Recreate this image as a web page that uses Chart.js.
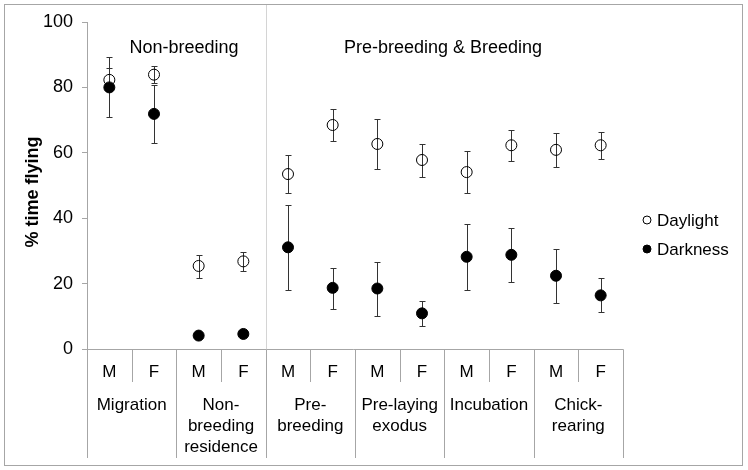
<!DOCTYPE html>
<html>
<head>
<meta charset="utf-8">
<script src="https://cdn.jsdelivr.net/npm/chart.js@4/dist/chart.umd.min.js"></script>
<style>
html,body{margin:0;padding:0;background:#fff;}
#wrap{width:748px;height:470px;position:relative;}
</style>
</head>
<body>
<div id="wrap"><canvas id="c"></canvas></div>
<script>
// ---- data ----
const sexes = ['M','F','M','F','M','F','M','F','M','F','M','F'];
const stages = [['Migration'],['Non-','breeding','residence'],['Pre-','breeding'],['Pre-laying','exodus'],['Incubation'],['Chick-','rearing']];
const periods = ['Non-breeding','Pre-breeding & Breeding'];
const periodSpans = [2, 4]; // number of stages in each period
const yTicks = [0,20,40,60,80,100];

const daylight   = [82.3, 83.9, 25.4, 26.8, 53.5, 68.5, 62.7, 57.8, 54.1, 62.3, 60.9, 62.3];
const daylightLo = [78.8, 81.3, 21.8, 23.8, 47.6, 63.7, 55.0, 52.7, 47.7, 57.4, 55.7, 58.1];
const daylightHi = [85.8, 86.5, 28.7, 29.7, 59.4, 73.3, 70.2, 62.8, 60.4, 67.1, 66.1, 66.4];

const darkness   = [80.0, 71.9, 4.1, 4.6, 31.1, 18.7, 18.5, 10.9, 28.2, 28.8, 22.4, 16.4];
const darknessLo = [70.8, 62.9, 3.3, 3.8, 18.0, 12.3, 10.2, 7.1, 18.0, 20.5, 14.1, 11.2];
const darknessHi = [89.2, 80.7, 5.0, 5.4, 44.1, 24.9, 26.6, 14.7, 38.3, 37.1, 30.7, 21.7];

const FONT = "'Liberation Sans', Arial, sans-serif";
const GRID = '#a6a6a6';

const errorBars = {
  id: 'errorBars',
  beforeDatasetsDraw(chart) {
    const ctx = chart.ctx, x = chart.scales.x, y = chart.scales.y;
    const sets = [[daylightLo, daylightHi],[darknessLo, darknessHi]];
    ctx.save();
    ctx.strokeStyle = '#333';
    ctx.lineWidth = 1;
    sets.forEach(([lo, hi]) => {
      lo.forEach((l, i) => {
        const px = Math.round(x.getPixelForValue(i)) + 0.5;
        const p1 = Math.round(y.getPixelForValue(l)) + 0.5;
        const p2 = Math.round(y.getPixelForValue(hi[i])) + 0.5;
        ctx.beginPath();
        ctx.moveTo(px, p1); ctx.lineTo(px, p2);
        ctx.moveTo(px - 3, p1); ctx.lineTo(px + 3, p1);
        ctx.moveTo(px - 3, p2); ctx.lineTo(px + 3, p2);
        ctx.stroke();
      });
    });
    ctx.restore();
  }
};

const decorations = {
  id: 'decorations',
  afterDraw(chart) {
    const ctx = chart.ctx, x = chart.scales.x, y = chart.scales.y;
    const area = chart.chartArea;
    const n = sexes.length;
    const step = x.getPixelForValue(1) - x.getPixelForValue(0);
    const edge = i => Math.round(x.getPixelForValue(0) - step / 2 + i * step) + 0.5;
    const base = Math.round(y.getPixelForValue(0)) + 0.5;
    ctx.save();
    // outer frame
    ctx.strokeStyle = GRID;
    ctx.lineWidth = 1;
    ctx.strokeRect(4.5, 4.5, 738, 461);
    // x axis line
    ctx.beginPath();
    ctx.moveTo(area.left - 4, base); ctx.lineTo(edge(n), base);
    ctx.stroke();
    // period separator inside plot
    ctx.strokeStyle = '#d4d4d4';
    let sepIdx = 0;
    for (let s = 0; s < periodSpans[0]; s++) sepIdx += 2;
    ctx.beginPath();
    ctx.moveTo(edge(sepIdx), 5); ctx.lineTo(edge(sepIdx), base);
    ctx.stroke();
    // category dividers
    ctx.strokeStyle = GRID;
    for (let i = 0; i <= n; i++) {
      const long = i % 2 === 0;
      ctx.beginPath();
      ctx.moveTo(edge(i), base);
      ctx.lineTo(edge(i), long ? 458 : 382);
      ctx.stroke();
    }
    // sex labels
    ctx.fillStyle = '#000';
    ctx.font = '17px ' + FONT;
    ctx.textAlign = 'center';
    ctx.textBaseline = 'middle';
    sexes.forEach((s, i) => ctx.fillText(s, x.getPixelForValue(i), 372));
    // stage labels
    stages.forEach((lines, g) => {
      const cx = (x.getPixelForValue(2 * g) + x.getPixelForValue(2 * g + 1)) / 2;
      lines.forEach((t, k) => ctx.fillText(t, cx, 405 + k * 21));
    });
    // period titles
    ctx.font = '18px ' + FONT;
    ctx.fillText(periods[0], 184, 48);
    ctx.fillText(periods[1], 443, 48);
    // y axis title
    ctx.save();
    ctx.translate(33, 192);
    ctx.rotate(-Math.PI / 2);
    ctx.font = 'bold 18px ' + FONT;
    ctx.fillText('% time flying', 0, 0);
    ctx.restore();
    // legend
    ctx.font = '17px ' + FONT;
    ctx.textAlign = 'left';
    chart.data.datasets.forEach((ds, k) => {
      const ly = 220 + k * 29;
      ctx.beginPath();
      ctx.arc(647, ly, 4, 0, Math.PI * 2);
      ctx.strokeStyle = '#000';
      ctx.lineWidth = 1;
      if (k === 1) { ctx.fillStyle = '#000'; ctx.fill(); }
      ctx.stroke();
      ctx.fillStyle = '#000';
      ctx.fillText(ds.label, 657, ly + 1);
    });
    ctx.restore();
  }
};

new Chart(document.getElementById('c'), {
  type: 'line',
  data: {
    labels: sexes,
    datasets: [
      { label: 'Daylight', data: daylight, showLine: false, pointStyle: 'circle', pointRadius: 5.5,
        pointBackgroundColor: 'rgba(255,255,255,0)', pointBorderColor: '#000', pointBorderWidth: 1 },
      { label: 'Darkness', data: darkness, showLine: false, pointStyle: 'circle', pointRadius: 5.5,
        pointBackgroundColor: '#000', pointBorderColor: '#000', pointBorderWidth: 1 }
    ]
  },
  options: {
    responsive: true,
    maintainAspectRatio: false,
    animation: false,
    events: [],
    layout: { padding: { left: 0, top: 22, right: 125, bottom: 0 } },
    plugins: { legend: { display: false }, tooltip: { enabled: false } },
    scales: {
      x: {
        type: 'category',
        offset: true,
        grid: { display: false },
        border: { display: false },
        ticks: { display: false },
        afterFit(s) { s.height = 121; }
      },
      y: {
        min: 0, max: 100,
        afterBuildTicks(s) { s.ticks = yTicks.map(v => ({ value: v })); },
        grid: { drawOnChartArea: false, drawTicks: true, tickLength: 5, color: GRID },
        border: { display: true, color: GRID },
        ticks: { color: '#000', font: { family: FONT, size: 18 }, padding: 9 },
        afterFit(s) { s.width = 87; }
      }
    }
  },
  plugins: [errorBars, decorations]
});
</script>
</body>
</html>
